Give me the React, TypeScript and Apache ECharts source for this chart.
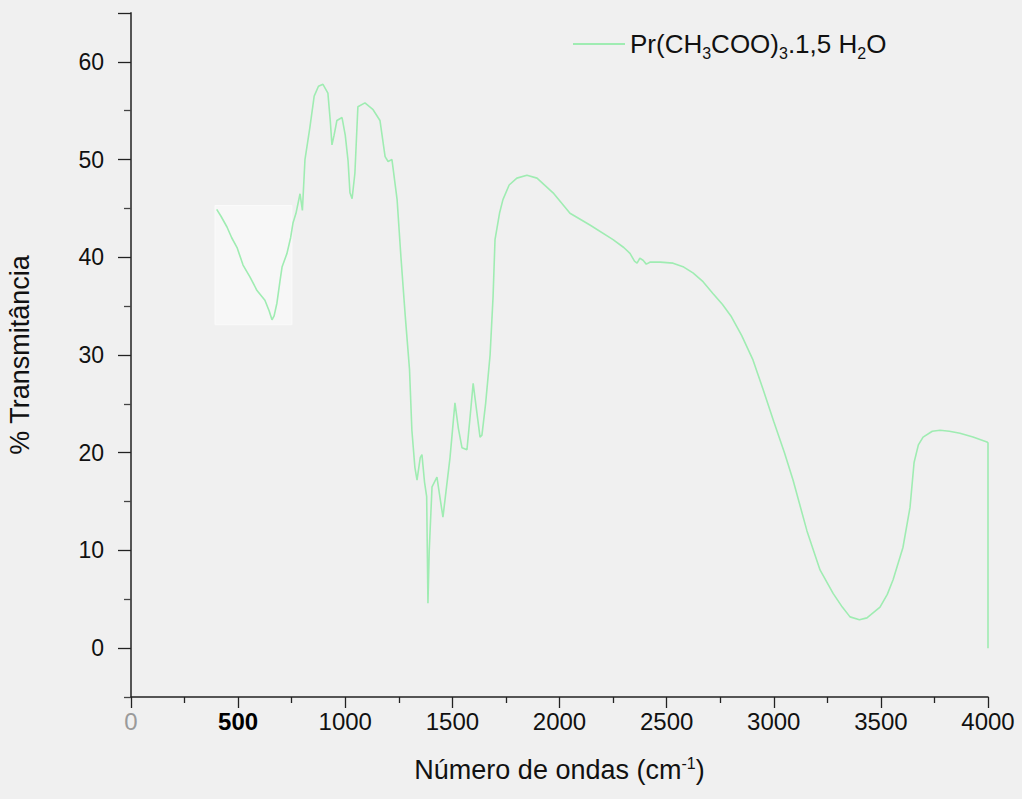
import React, { useEffect, useRef } from "react";
import * as echarts from "echarts";

// Wavenumber (cm-1) and % transmittance
const wavenumber = [
  400, 420, 448, 470, 495, 523, 555, 588, 625, 645, 658, 668, 681, 695, 705, 728, 745, 756, 770, 789,
  800, 812, 835, 855, 875, 896, 919, 930, 938, 948, 961, 985, 1000, 1013, 1022, 1032, 1045, 1059, 1092, 1130,
  1162, 1186, 1200, 1218, 1242, 1260, 1280, 1300, 1311, 1325, 1335, 1350, 1358, 1370, 1380, 1386, 1392, 1405, 1428, 1445,
  1456, 1470, 1489, 1512, 1528, 1545, 1568, 1582, 1597, 1615, 1629, 1638, 1655, 1676, 1690, 1699, 1720, 1736, 1765, 1801,
  1848, 1895, 1970, 2049, 2142, 2250, 2300, 2329, 2350, 2362, 2375, 2390, 2405, 2422, 2470, 2530, 2580, 2623, 2670, 2716,
  2760, 2800, 2850, 2903, 2950, 3000, 3050, 3090, 3155, 3216, 3277, 3320, 3356, 3400, 3435, 3496, 3530, 3557, 3603, 3636,
  3655, 3675, 3697, 3740, 3776, 3820, 3869, 3930, 3995, 4000, 4000,
];
const transmittance = [
  44.9, 44.2, 43.1, 42.0, 41.0, 39.2, 38.0, 36.6, 35.6, 34.5, 33.6, 34.0, 35.3, 37.5, 39.0, 40.4, 42.0, 43.5, 44.5, 46.5,
  44.8, 50.0, 53.3, 56.5, 57.5, 57.7, 56.8, 54.0, 51.5, 52.5, 54.0, 54.3, 52.5, 49.9, 46.6, 46.0, 48.6, 55.4, 55.8, 55.1,
  54.0, 50.3, 49.8, 50.0, 45.9, 40.0, 34.0, 28.5, 22.3, 18.5, 17.2, 19.5, 19.8, 17.0, 15.5, 4.6, 10.0, 16.5, 17.5, 15.0,
  13.4, 16.0, 19.5, 25.1, 22.5, 20.5, 20.3, 23.5, 27.1, 24.0, 21.6, 21.8, 25.0, 30.0, 36.0, 41.8, 44.5, 45.9, 47.4, 48.1,
  48.4, 48.1, 46.6, 44.5, 43.3, 41.8, 41.0, 40.4, 39.6, 39.4, 39.9, 39.7, 39.3, 39.5, 39.5, 39.4, 39.0, 38.4, 37.5, 36.3,
  35.2, 34.0, 32.0, 29.5, 26.5, 23.2, 20.0, 17.2, 12.0, 8.0, 5.6, 4.2, 3.2, 2.9, 3.1, 4.2, 5.5, 7.0, 10.3, 14.4,
  19.0, 20.8, 21.6, 22.2, 22.3, 22.2, 22.0, 21.6, 21.1, 21.0, 0.0,
];

const seriesName = "Pr(CH3COO)3.1,5 H2O";
const xTickLabels = [0, 500, 1000, 1500, 2000, 2500, 3000, 3500, 4000];
const yTickLabels = [0, 10, 20, 30, 40, 50, 60];
const yMajorTicks = [0, 10, 20, 30, 40, 50, 60, 65];
const yMinorTicks = [-5, 5, 15, 25, 35, 45, 55];
const yRange = [-5, 65];
const xRange = [0, 4000];
const boxedRegion = { x: [392, 751], y: [33.1, 45.3] };

export default function App() {
  const ref = useRef<HTMLDivElement>(null);

  useEffect(() => {
    if (!ref.current) return;
    const chart = echarts.init(ref.current, null, { renderer: "svg" });
    const font = "'Liberation Sans', Arial, sans-serif";
    const data = wavenumber.map((w, i) => [w, transmittance[i]]);
    const lineColor = "#9fecb2";

    chart.setOption({
      animation: false,
      backgroundColor: "#f0f0f0",
      textStyle: { fontFamily: font },
      grid: {
        left: 131,
        right: 34,
        top: 13,
        bottom: 102,
        containLabel: false,
        outerBoundsMode: "none",
      },
      legend: {
        left: 573,
        top: 31,
        padding: 0,
        itemWidth: 52,
        itemHeight: 2,
        icon: "rect",
        data: [seriesName],
        formatter: () => "{n|Pr(CH}{s|3}{n|COO)}{s|3}{n|.1,5 H}{s|2}{n|O}",
        textStyle: {
          rich: {
            n: { fontSize: 26, color: "#111", fontFamily: font, lineHeight: 34, verticalAlign: "middle" },
            s: { fontSize: 16, color: "#111", fontFamily: font, lineHeight: 34, verticalAlign: "bottom" },
          },
        },
      },
      xAxis: {
        type: "value",
        min: xRange[0],
        max: xRange[1],
        interval: 500,
        name: "Número de ondas (cm{sup|-1})",
        nameLocation: "middle",
        nameGap: 58,
        nameTextStyle: {
          fontSize: 27,
          color: "#111",
          fontFamily: font,
          rich: {
            sup: { fontSize: 16, color: "#111", verticalAlign: "top", lineHeight: 30 },
          },
        },
        splitLine: { show: false },
        axisLine: { show: true, onZero: false, lineStyle: { color: "#222", width: 1.5 } },
        axisTick: { show: true, inside: false, length: 11, lineStyle: { color: "#222", width: 1.3 } },
        minorTick: { show: true, splitNumber: 2, length: 6, lineStyle: { color: "#222", width: 1.3 } },
        axisLabel: {
          customValues: xTickLabels,
          margin: 12,
          fontSize: 24,
          color: "#111",
          fontFamily: font,
          formatter: (v: number) => (v === 0 ? "{g|0}" : v === 500 ? "{b|500}" : String(v)),
          rich: {
            g: { color: "#9a9a9a", fontSize: 24, fontFamily: font },
            b: { color: "#000", fontSize: 24, fontWeight: "bold", fontFamily: font },
          },
        },
      },
      yAxis: [
        {
          type: "value",
          min: yRange[0],
          max: yRange[1],
          name: "% Transmitância",
          nameLocation: "middle",
          nameGap: 98,
          nameTextStyle: { fontSize: 27, color: "#111", fontFamily: font },
          splitLine: { show: false },
          axisLine: { show: true, onZero: false, lineStyle: { color: "#555", width: 2 } },
          axisTick: {
            show: true,
            inside: false,
            customValues: yMajorTicks,
            length: 13,
            lineStyle: { color: "#222", width: 1.3 },
          },
          axisLabel: {
            customValues: yTickLabels,
            margin: 27,
            fontSize: 23,
            color: "#111",
            fontFamily: font,
          },
        },
        {
          type: "value",
          min: yRange[0],
          max: yRange[1],
          position: "left",
          splitLine: { show: false },
          axisLine: { show: false },
          axisTick: {
            show: true,
            inside: false,
            customValues: yMinorTicks,
            length: 7,
            lineStyle: { color: "#444", width: 1.3 },
          },
          axisLabel: { show: false },
        },
      ],
      series: [
        {
          name: seriesName,
          type: "line",
          data,
          symbol: "none",
          smooth: false,
          lineStyle: { color: lineColor, width: 1.6 },
          itemStyle: { color: lineColor },
          markArea: {
            silent: true,
            itemStyle: { color: "#f7f7f7", borderColor: "#fafafa", borderWidth: 1 },
            data: [
              [
                { coord: [boxedRegion.x[0], boxedRegion.y[1]] },
                { coord: [boxedRegion.x[1], boxedRegion.y[0]] },
              ],
            ],
            z: 1,
          },
        },
      ],
    });

    return () => chart.dispose();
  }, []);

  return (
    <div
      ref={ref}
      style={{ position: "absolute", left: 0, top: 0, width: 1022, height: 799 }}
    />
  );
}
